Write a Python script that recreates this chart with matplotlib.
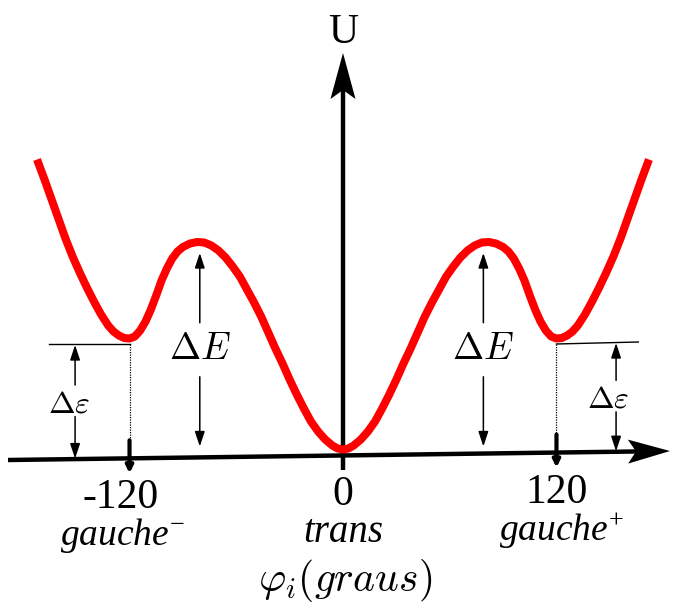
import numpy as np
import matplotlib.pyplot as plt
from matplotlib.patches import Polygon

plt.rcParams['font.family'] = ['Liberation Serif', 'DejaVu Serif']
plt.rcParams['mathtext.fontset'] = 'cm'
plt.rcParams['mathtext.rm'] = 'Liberation Serif'
plt.rcParams['mathtext.it'] = 'Liberation Serif:italic'

# --------------------- dados: ângulo diedro (graus) x energia (u.a.) ---------------------
phi = [-172, -168, -164, -160, -156, -152, -148, -144, -140, -136, -132, -129, -126, -123,
       -120, -117, -114, -111, -108, -105, -102, -99, -96, -93, -90, -86, -82, -78, -74,
       -70, -66, -62, -58, -54, -50, -46, -42, -38, -34, -30, -26, -22, -18, -14, -10,
       -6, -3, 0,
       3, 6, 10, 14, 18, 22, 26, 30, 34, 38, 42, 46, 50, 54, 58, 62, 66, 70,
       74, 78, 82, 86, 90, 93, 96, 99, 102, 105, 108, 111, 114, 117, 120,
       123, 126, 129, 132, 136, 140, 144, 148, 152, 156, 160, 164, 168, 172]
energia = [2.90, 2.71, 2.51, 2.31, 2.11, 1.93, 1.77, 1.62, 1.48, 1.35, 1.24, 1.18, 1.14, 1.115,
           1.11, 1.13, 1.19, 1.28, 1.40, 1.54, 1.69, 1.81, 1.91, 1.98, 2.025, 2.06, 2.075, 2.07, 2.04,
           1.99, 1.92, 1.83, 1.73, 1.60, 1.47, 1.33, 1.17, 1.01, 0.86, 0.70, 0.55, 0.41, 0.28, 0.18, 0.10,
           0.04, 0.01, 0.0,
           0.01, 0.04, 0.10, 0.18, 0.28, 0.41, 0.55, 0.70, 0.86, 1.01, 1.17, 1.33, 1.47, 1.60, 1.73, 1.83, 1.92, 1.99,
           2.04, 2.07, 2.075, 2.06, 2.025, 1.98, 1.91, 1.81, 1.69, 1.54, 1.40, 1.28, 1.19, 1.13, 1.11,
           1.115, 1.14, 1.18, 1.24, 1.35, 1.48, 1.62, 1.77, 1.93, 2.11, 2.31, 2.51, 2.71, 2.90]

ticks = [-120, 0, 120]
tick_rotulos = ['-120', '0', '120']
conformacoes = [r'$gauche^{-}$', 'trans', r'$gauche^{+}$']

# --------------------- escala da figura (pixels) ---------------------
W, H = 674, 606
X0, Y0 = 343, 449.5      # origem: trans, energia zero
SX, SY = 1.779, 100.0    # px por grau, px por u.a.


def px(x, y):
    return (x - X0) / SX, (Y0 - y) / SY


def eixo_y(x):
    # o eixo horizontal sobe levemente para a direita
    return 460 - 9 * (x - 8) / 663


fig = plt.figure(figsize=(W / 100, H / 100), dpi=100)
ax = fig.add_axes([0, 0, 1, 1])
ax.set_xlim(px(0, 0)[0], px(W, 0)[0])
ax.set_ylim(px(0, H)[1], px(0, 0)[1])
ax.axis('off')


def seta(p0, p1, comp, meia, entalhe, lw):
    p0 = np.array(p0, float)
    p1 = np.array(p1, float)
    d = (p1 - p0) / np.hypot(*(p1 - p0))
    n = np.array([-d[1], d[0]])
    base = p1 - d * comp
    fundo = p1 - d * (comp - entalhe)
    a, b = px(*p0), px(*fundo)
    ax.plot([a[0], b[0]], [a[1], b[1]], color='k', lw=lw, solid_capstyle='butt')
    pts = [p1, base + n * meia, fundo, base - n * meia]
    ax.add_patch(Polygon([px(*q) for q in pts], closed=True, fc='k', ec='none'))


def flecha(x, y_ini, y_fim):
    ax.annotate('', xy=(x, y_fim), xytext=(x, y_ini),
                arrowprops=dict(arrowstyle='-|>,head_length=0.9,head_width=0.3',
                                color='k', lw=1.1, shrinkA=0, shrinkB=0,
                                mutation_scale=10))


# --------------------- eixos ---------------------
seta((343, 470), (343, 53), 46, 12.5, 9, 3.2)
seta((8, eixo_y(8)), (670, eixo_y(670)), 42, 12, 8, 3.2)

# --------------------- curva de energia ---------------------
ax.plot(phi, energia, color='#ff0000', lw=5.8, solid_capstyle='butt',
        solid_joinstyle='round', zorder=3)

phi_a = np.array(phi)
e_a = np.array(energia)
e_gauche = e_a[phi_a == 120][0]
e_pico = e_a[np.abs(phi_a) < 150].max()
nivel = e_gauche - 0.055

# --------------------- marcas em -120, 0, 120 ---------------------
for t, rot, conf in zip(ticks, tick_rotulos, conformacoes):
    xp = X0 + t * SX
    yb = px(0, eixo_y(xp))[1]
    if t != 0:
        ax.plot([t, t], [nivel, yb + 0.17], color='k', lw=0.9, ls=(0, (1, 1)))
        ax.annotate('', xy=(t, yb - 0.15), xytext=(t, yb + 0.18),
                    arrowprops=dict(arrowstyle='-|>,head_length=0.5,head_width=0.25',
                                    color='k', lw=3.0, shrinkA=0, shrinkB=0,
                                    mutation_scale=8))
        ax.plot([t - 45, t] if t < 0 else [t, t + 46], [nivel, nivel + (0.0 if t < 0 else 0.02)],
                color='k', lw=1.0)
    ax.text(t - (5 if t < 0 else 0), yb - 0.5, rot, ha='center', va='baseline', fontsize=30)
    if conf.startswith('$'):
        ax.text(t + (-4 if t < 0 else 3), yb - 0.87, conf, ha='center', va='baseline',
                fontsize=27, math_fontfamily='custom')
    else:
        ax.text(t, yb - 0.87, conf, ha='center', va='baseline', fontsize=28, style='italic')

ax.text(*px(345, 591), r'$\varphi_i(graus)$', ha='center', va='baseline', fontsize=30)
ax.text(*px(343, 43), 'U', ha='center', va='baseline', fontsize=30)

# --------------------- Delta E (barreira) ---------------------
for xe in (-80.5, 78.9):
    topo = e_pico - 0.11
    base = 0.03
    meio = (topo + base) / 2
    flecha(xe, meio + 0.27, topo)
    flecha(xe, meio - 0.27, base)
    ax.text(xe, meio, r'$\Delta E$', ha='center', va='center', fontsize=27)

# --------------------- Delta epsilon (gauche - trans) ---------------------
for xe, xt in ((-150.6, -154), (153.5, 149)):
    yb = px(0, eixo_y(X0 + xe * SX))[1]
    topo = nivel + (0.0 if xe < 0 else 0.02)
    meio = (topo + yb) / 2
    flecha(xe, meio + 0.165, topo - 0.01)
    flecha(xe, meio - 0.15, yb + 0.005)
    ax.text(xt, meio - 0.03, r'$\Delta\varepsilon$', ha='center', va='center', fontsize=23)

fig.savefig('out.png', dpi=100)
